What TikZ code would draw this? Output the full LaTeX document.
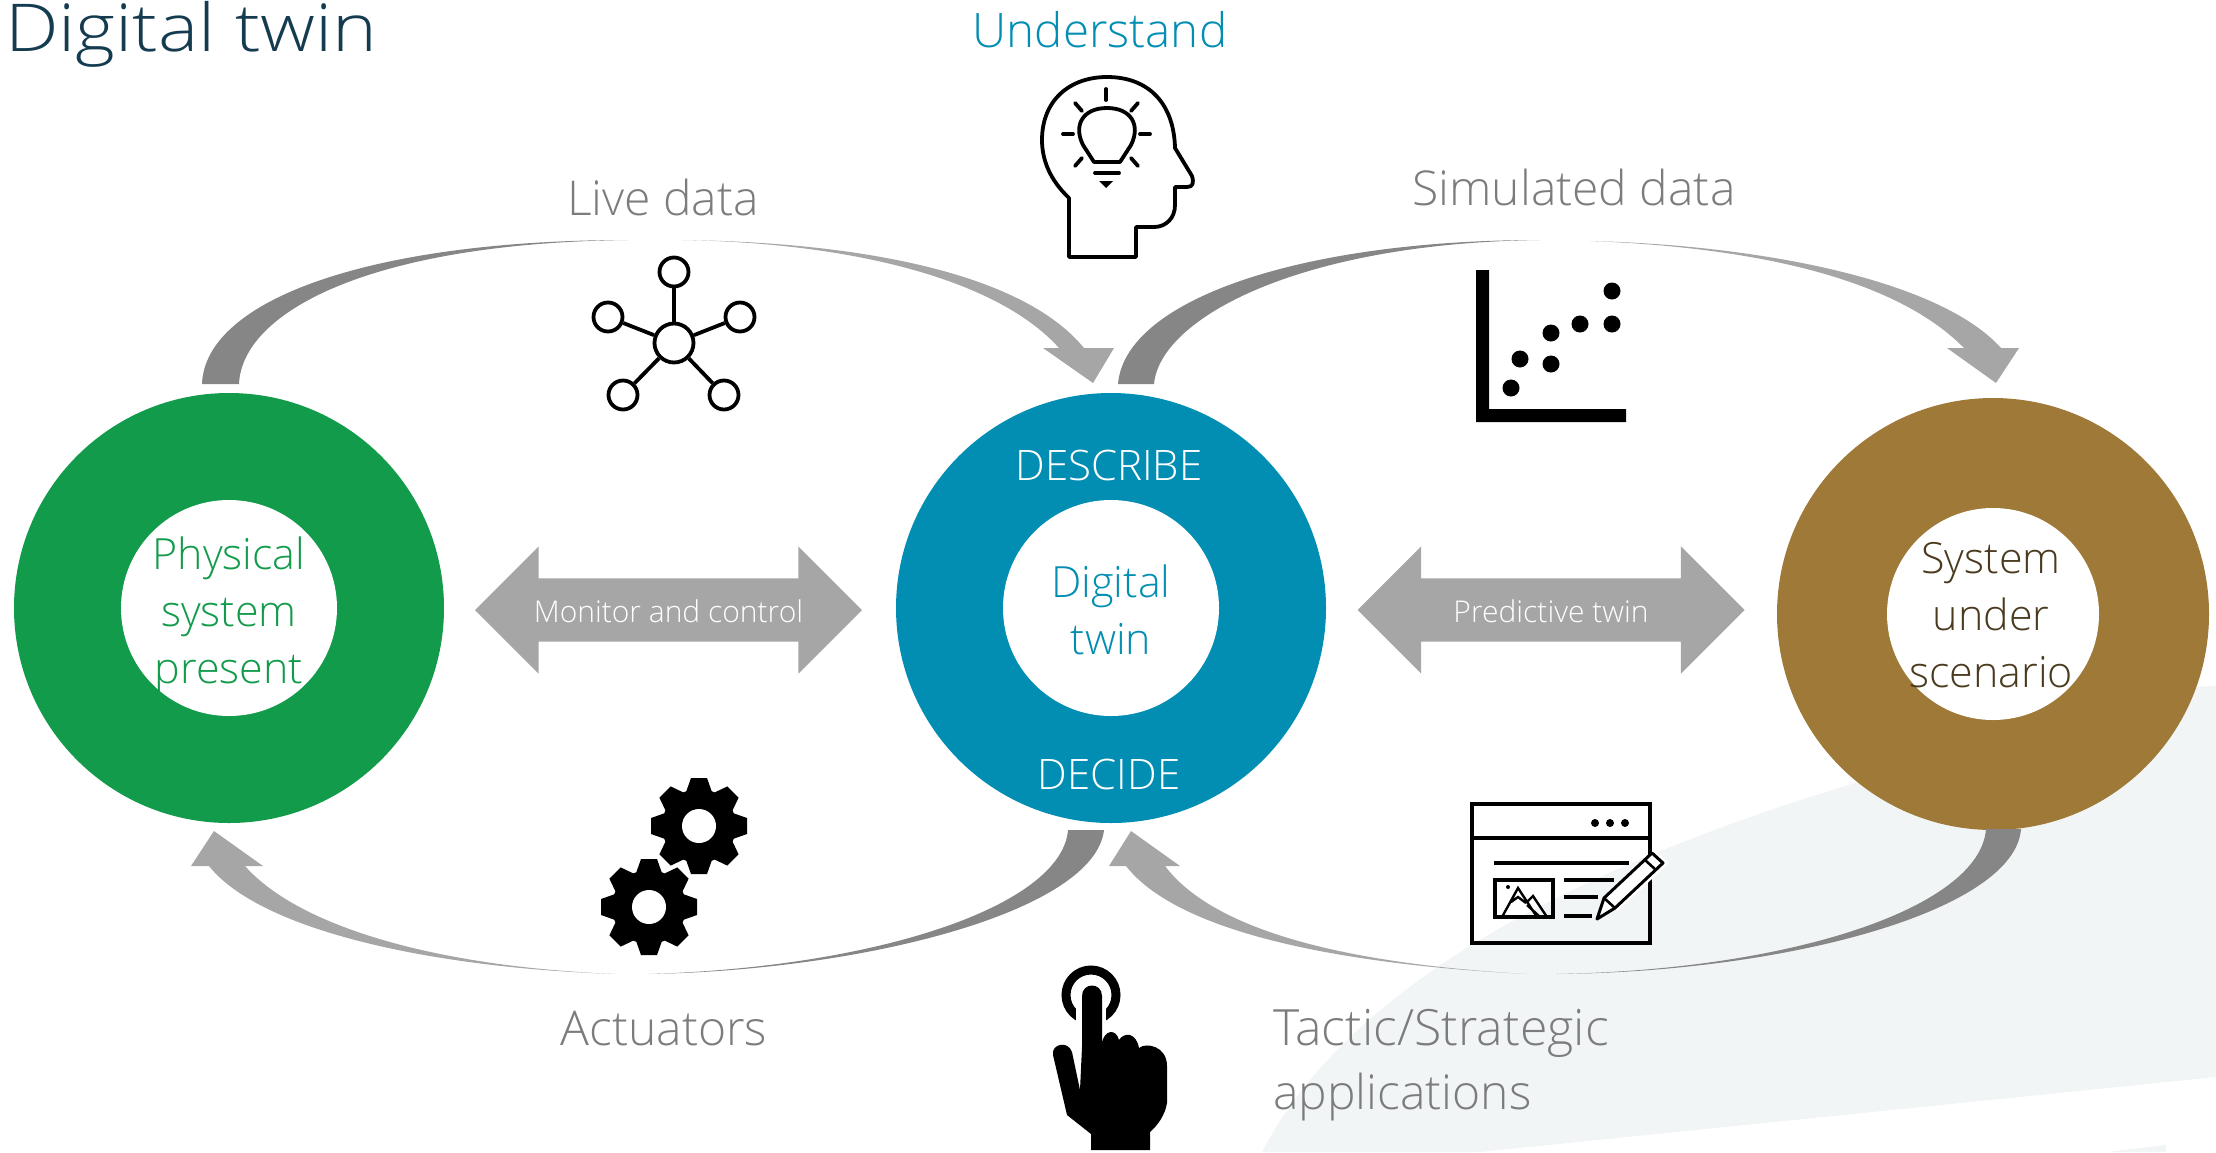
\documentclass[tikz,border=0pt]{standalone}
\usepackage{fontspec}
\setmainfont{Open Sans}[UprightFont=* Light]
\newfontfamily\titlefont{Open Sans}[UprightFont=* Light,FakeStretch=1.15]
\usetikzlibrary{shapes.arrows}
\definecolor{ringgreen}{HTML}{129B4B}
\definecolor{ringblue}{HTML}{028DB3}
\definecolor{ringbrown}{HTML}{9E7937}
\definecolor{flowdark}{HTML}{868686}
\definecolor{flowlight}{HTML}{A6A6A6}
\definecolor{labelgray}{HTML}{7C7C7C}
\definecolor{titleink}{HTML}{153B50}
\definecolor{paleback}{HTML}{F1F5F6}
\definecolor{brownink}{HTML}{4A3A1E}
\newcommand{\fs}[2]{\fontsize{#1}{#2}\selectfont}
\tikzset{
  x=1pt,y=-1pt,
  ring/.style={circle,inner sep=0pt,minimum size=430pt},
  hole/.style={circle,inner sep=0pt,fill=white,minimum size=216pt},
  ringtext/.style={align=center,inner sep=0pt,font=\fs{43}{57}},
  flowlabel/.style={anchor=base,inner sep=0pt,text=labelgray,font=\fs{48}{64}},
  bothways/.style={shape=double arrow,fill=flowlight,text=white,font=\fs{30}{30},
    minimum height=387pt,minimum width=127pt,inner xsep=0pt,inner ysep=19.5pt,
    text height=24pt,text depth=0pt,double arrow head extend=32pt,
    double arrow tip angle=90,double arrow head indent=0pt},
  netdot/.style={circle,draw=black,line width=3.8pt,fill=white,inner sep=0pt,minimum size=29pt},
  nethub/.style={netdot,minimum size=39pt},
  netlink/.style={draw=black,line width=3.8pt},
  plotdot/.style={circle,fill=black,inner sep=0pt,minimum size=17pt},
  outline/.style={draw=black,line width=3.8pt,line join=miter},
  ray/.style={draw=black,line width=3.8pt,line cap=round},
  gearicon/.pic={
    \foreach \a in {0,45,...,315}
      \fill[black,rotate=\a] (-14,-31) -- (-8,-48) -- (8,-48) -- (14,-31) -- cycle;
    \fill[black] (0,0) circle[radius=37];
    \fill[white] (0,0) circle[radius=17];
  },
  gearhalo/.pic={
    \foreach \a in {0,45,...,315}
      \draw[white,line width=6pt,rotate=\a] (-14,-31) -- (-8,-48) -- (8,-48) -- (14,-31) -- cycle;
  },
}
\begin{document}
\begin{tikzpicture}
\useasboundingbox (0,0) rectangle (2216,1152);
% background sweep
\fill[paleback] (1262,1152) .. controls (1330,1020) and (1500,890) .. (1855,783)
  -- (2190,687) -- (2216,686) -- (2216,1077) -- (1480,1152) -- cycle;
\fill[paleback] (2107,1152) -- (2166,1145) -- (2166,1152) -- cycle;

% rings
\node[ring,fill=ringgreen] (physRing) at (229,608) {};
\node[hole] (physHole) at (229,608) {};
\node[ringtext,text=ringgreen] (physText) at (229,615) {Physical\\system\\present};
\node[ring,fill=ringblue] (twinRing) at (1111,608) {};
\node[hole] (twinHole) at (1111,608) {};
\node[ringtext,text=ringblue] (twinText) at (1111,610) {Digital\\twin};
\node[ring,fill=ringbrown,minimum size=432pt] (scenRing) at (1993,614) {};
\node[hole,minimum size=212pt] (scenHole) at (1993,614) {};
\node[ringtext,text=brownink] (scenText) at (1991,615) {System\\under\\scenario};
\node[anchor=base,inner sep=0pt,text=white,font=\fs{42}{42}] (describe) at (1109,480) {DESCRIBE};
\node[anchor=base,inner sep=0pt,text=white,font=\fs{42}{42}] (decide) at (1109,789) {DECIDE};

% double arrows
\node[bothways] (monitor) at (668.5,610) {Monitor and control};
\node[bothways] (predict) at (1551,610) {Predictive twin};

% curved flows
\coordinate (liveTailA) at (202,384); \coordinate (liveTailB) at (239,384); \coordinate (liveTip) at (628,240);
\fill[flowdark] (liveTailA) .. controls (205,300) and (370,240) .. (liveTip)
  .. controls (370,243) and (242,312) .. (liveTailB) -- cycle;
\coordinate (liveHeadTip) at (1093,383); \coordinate (liveStart) at (682,240);
\fill[flowlight] (liveStart) .. controls (850,242) and (1020,270) .. (1084,348) -- (1114,348) -- (liveHeadTip)
  -- (1043,348) -- (1059,348) .. controls (1000,282) and (860,243) .. (liveStart) -- cycle;

\coordinate (simTailA) at (1118,384); \coordinate (simTailB) at (1154,384); \coordinate (simTip) at (1540,240);
\fill[flowdark] (simTailA) .. controls (1125,300) and (1300,240) .. (simTip)
  .. controls (1300,243) and (1160,318) .. (simTailB) -- cycle;
\coordinate (simStart) at (1590,241); \coordinate (simHeadTip) at (1996,383);
\fill[flowlight] (simStart) .. controls (1760,245) and (1940,280) .. (2001,348) -- (2019,348) -- (simHeadTip)
  -- (1947,348) -- (1964,348) .. controls (1900,283) and (1770,248) .. (simStart) -- cycle;

\coordinate (actTailA) at (1068,830); \coordinate (actTailB) at (1104,830); \coordinate (actTip) at (649,974);
\fill[flowdark] (actTailB) .. controls (1095,910) and (870,970) .. (actTip)
  .. controls (880,967) and (1062,905) .. (actTailA) -- cycle;
\coordinate (actStart) at (616,974); \coordinate (actHeadTip) at (214,831);
\fill[flowlight] (actStart) .. controls (430,968) and (260,930) .. (209,866) -- (191,866) -- (actHeadTip)
  -- (263,866) -- (245,866) .. controls (300,928) and (440,967) .. (actStart) -- cycle;

\coordinate (appTailA) at (1986,829); \coordinate (appTailB) at (2021,829); \coordinate (appTip) at (1556,974);
\fill[flowdark] (appTailB) .. controls (2015,910) and (1790,972) .. (appTip)
  .. controls (1790,970) and (1980,908) .. (appTailA) -- cycle;
\coordinate (appStart) at (1527,974); \coordinate (appHeadTip) at (1131,831);
\fill[flowlight] (appStart) .. controls (1350,965) and (1180,935) .. (1126,866) -- (1109,866) -- (appHeadTip)
  -- (1180,866) -- (1165,866) .. controls (1215,932) and (1350,964) .. (appStart) -- cycle;

% labels
\node[anchor=base west,inner sep=0pt,text=titleink,font=\titlefont\fs{66}{66}] (title) at (5,51) {Digital twin};
\node[anchor=base,inner sep=0pt,text=ringblue,font=\fs{47.5}{47.5}] (understand) at (1100,47) {Understand};
\node[flowlabel] (livelabel) at (663,215) {Live data};
\node[flowlabel] (simlabel) at (1574,205) {Simulated data};
\node[flowlabel] (actlabel) at (664,1045) {Actuators};
\node[anchor=base west,inner sep=0pt,text=labelgray,font=\fs{50}{64}] (tacticlabel) at (1273,1045) {Tactic/Strategic};
\node[anchor=base west,inner sep=0pt,text=labelgray,font=\fs{48}{64}] (applabel) at (1273,1109) {applications};

% network icon
\node[nethub] (hub) at (674,343) {};
\node[netdot] (n1) at (674,272) {};
\node[netdot] (n2) at (608,317) {};
\node[netdot] (n3) at (740,317) {};
\node[netdot] (n4) at (623,395) {};
\node[netdot] (n5) at (724,395) {};
\foreach \n in {n1,n2,n3,n4,n5} \draw[netlink] (hub) -- (\n);

% head with bulb
\draw[outline,line join=round] (1069,257) -- (1069,198) .. controls (1050,180) and (1042,160) .. (1042,140)
  .. controls (1042,100) and (1070,77) .. (1107,77) .. controls (1150,77) and (1174,105) .. (1175,148)
  -- (1192,176) .. controls (1194,183) and (1193,187) .. (1187,187) -- (1175,187) -- (1175,205)
  .. controls (1175,218) and (1166,227) .. (1154,227) -- (1136,227) -- (1136,257) -- cycle;
\draw[outline,line join=round] (1094,162) -- (1083,145) .. controls (1073,125) and (1083,108) .. (1107,108)
  .. controls (1131,108) and (1141,125) .. (1131,145) -- (1120,162) -- cycle;
\draw[ray] (1095,173) -- (1119,173);
\fill[black] (1099,181) -- (1113,181) -- (1106,188) -- cycle;
\draw[ray] (1106,89) -- (1106,100);
\draw[ray] (1063,134) -- (1073,134);
\draw[ray] (1140,134) -- (1150,134);
\draw[ray] (1075,103) -- (1082,111);
\draw[ray] (1138,103) -- (1131,111);
\draw[ray] (1075,166) -- (1082,158);
\draw[ray] (1138,166) -- (1131,158);

% scatter icon
\fill[black] (1476,270) -- (1489,270) -- (1489,409) -- (1626,409) -- (1626,422) -- (1476,422) -- cycle;
\foreach \p/\q in {1612/291,1612/324,1580/324,1551/333,1551/364,1520/359,1511/388}
  \node[plotdot] at (\p,\q) {};

% gears
\pic at (649,907) {gearicon};
\pic at (699,826) {gearhalo};
\pic at (699,826) {gearicon};

% pointing hand
\draw[black,line width=9pt] (1091,995) circle[radius=25];
\fill[white] (1076,985) rectangle (1106,1032);
\fill[black] (1082,1047) -- (1082,996) .. controls (1082,982) and (1102,982) .. (1102,996) -- (1102,1043)
  .. controls (1104,1030) and (1116,1028) .. (1119,1040) .. controls (1124,1032) and (1136,1032) .. (1139,1048)
  .. controls (1146,1042) and (1167,1046) .. (1167,1066) -- (1167,1103) .. controls (1165,1115) and (1158,1125) .. (1150,1132)
  -- (1150,1150) -- (1091,1150) -- (1091,1134) -- (1067,1115) -- (1053,1055)
  .. controls (1051,1044) and (1068,1040) .. (1072,1052) -- (1080,1090) -- cycle;

% window icon
\draw[outline,line width=4pt] (1472,804) rectangle (1650,943);
\draw[outline,line width=4pt] (1472,838) -- (1650,838);
\fill[black] (1595,823) circle[radius=4] (1610,823) circle[radius=4] (1625,823) circle[radius=4];
\draw[outline] (1494,863) -- (1629,863);
\draw[outline] (1495,880) rectangle (1553,917);
\draw[outline] (1564,880) -- (1614,880);
\draw[outline] (1564,897) -- (1598,897);
\draw[outline] (1564,916) -- (1592,916);
\draw[black,line width=2.4pt] (1502,917) -- (1518,888) -- (1537,917)
  (1511,902) -- (1518,897) -- (1526,903)
  (1526,903) -- (1533,896) -- (1547,917)
  (1527,905) -- (1540,917);
\fill[black] (1508,887) circle[radius=2];
\fill[white] (1652,853) -- (1663,863) -- (1615,908) -- (1597,919) -- (1604,898) -- cycle;
\draw[white,line width=8pt] (1652,853) -- (1663,863) -- (1615,908);
\draw[black,line width=3pt,line join=round] (1652,853) -- (1663,863) -- (1615,908) -- (1597,919) -- (1604,898) -- cycle;
\draw[black,line width=2.6pt] (1645,860) -- (1656,870) (1604,898) -- (1615,908);
\end{tikzpicture}
\end{document}
